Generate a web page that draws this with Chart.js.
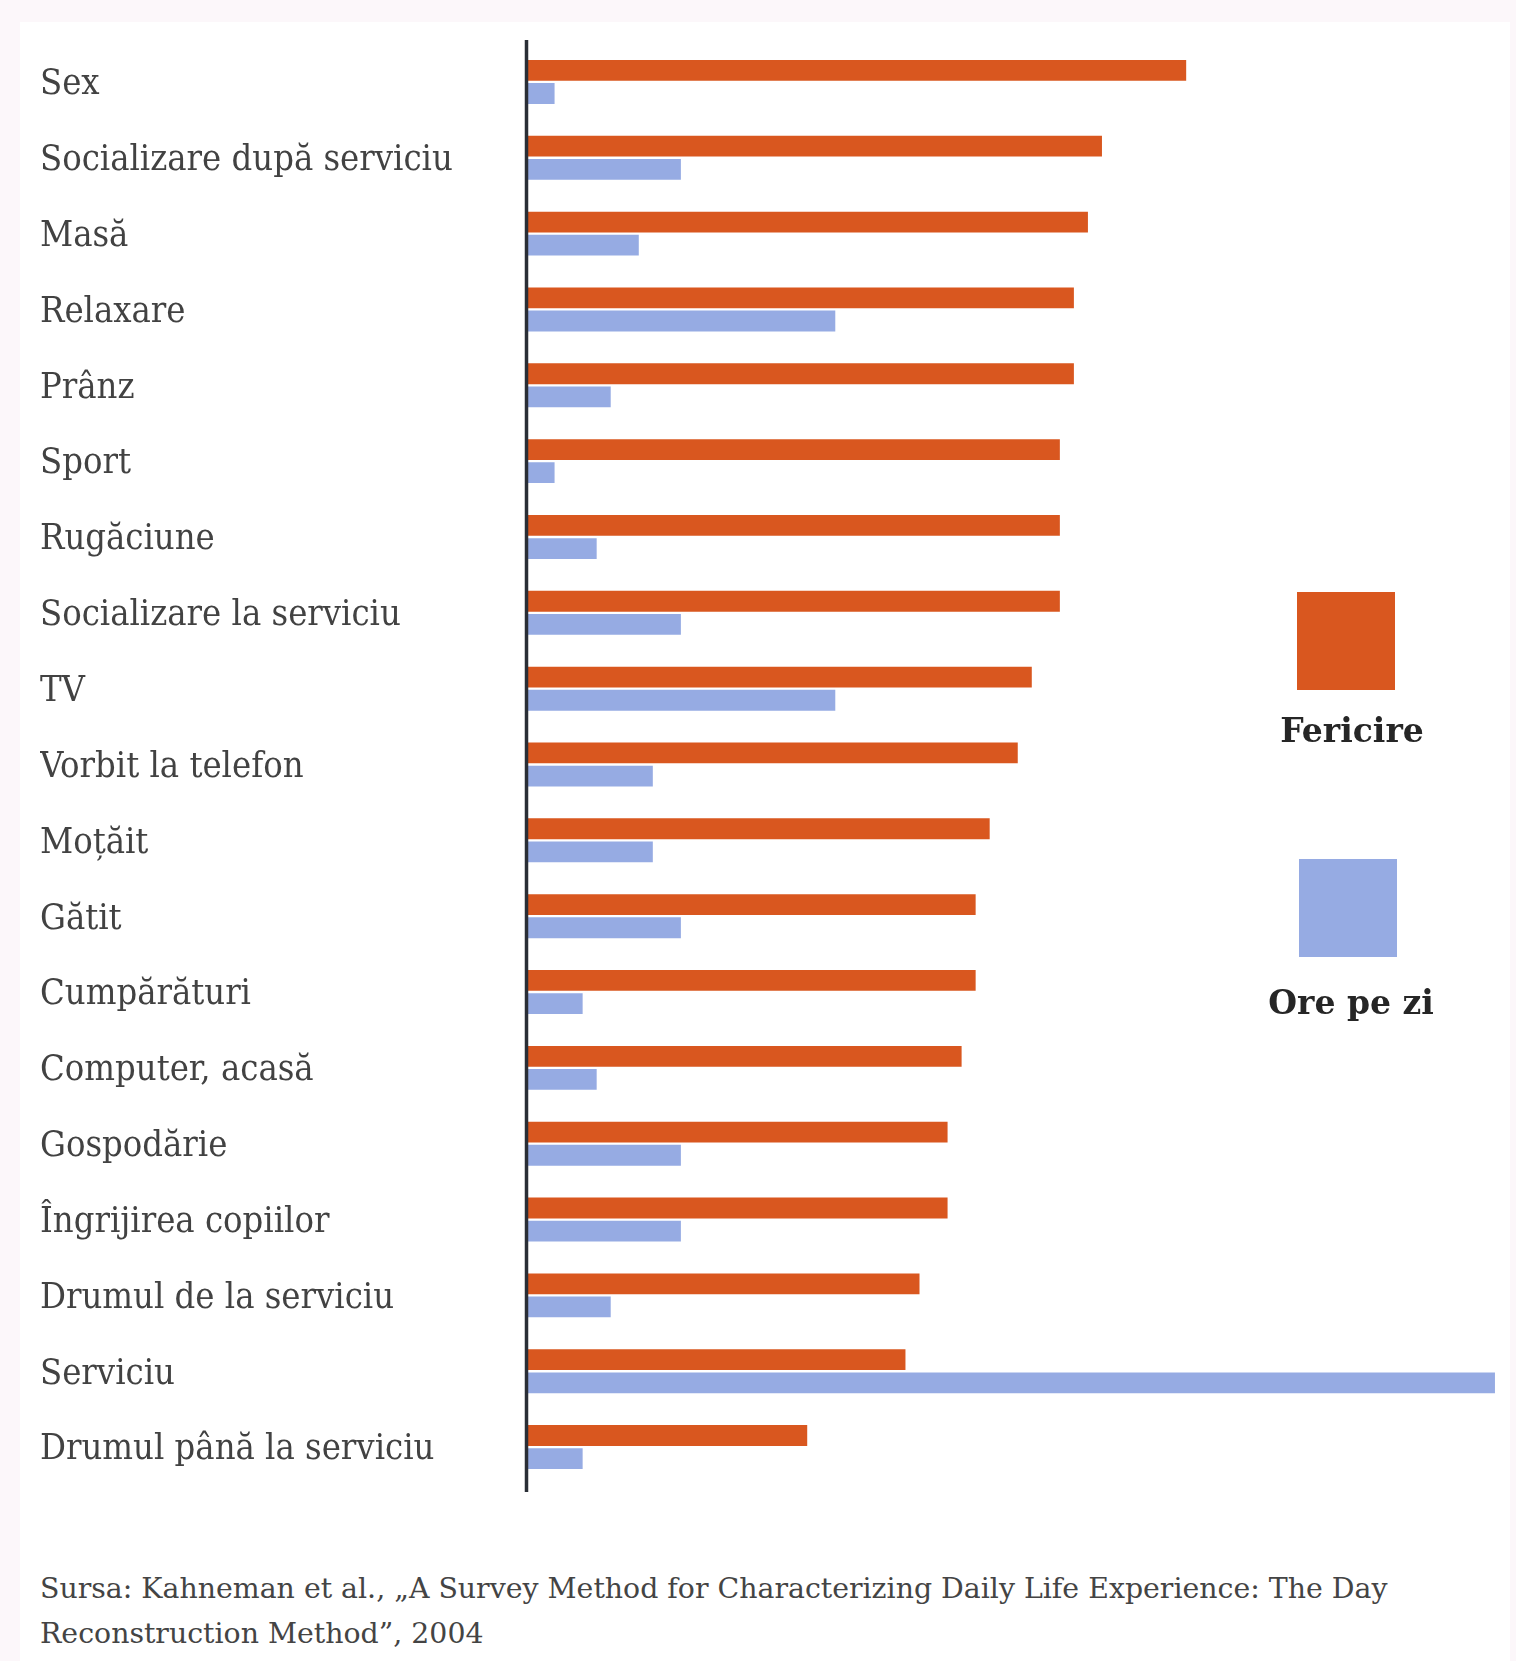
<!DOCTYPE html>
<html lang="ro">
<head>
<meta charset="utf-8">
<title>Fericire și ore pe zi</title>
<script src="https://cdn.jsdelivr.net/npm/chart.js@4.4.1/dist/chart.umd.min.js"></script>
<style>
    html, body { margin: 0; padding: 0; background: #fcf7fa; }
    #pagina { position: relative; width: 1516px; height: 1661px; overflow: hidden; }
    #panou { position: absolute; left: 20px; top: 22px; width: 1490px; height: 1639px; background: #fff; }
    #grafic { position: absolute; left: 0; top: 0; }
    .patrat { position: absolute; width: 98px; height: 98px; }
    .eticheta { position: absolute; width: 240px; text-align: center; line-height: 40px;
        font-family: 'DejaVu Serif', serif; font-weight: bold; font-size: 33px; color: #262626; }
    #sursa { position: absolute; left: 40px; top: 1566px; line-height: 45px; white-space: nowrap;
        font-family: 'DejaVu Serif', serif; color: #444; }
</style>
</head>
<body>
<div id="pagina">
    <div id="panou"></div>
    <canvas id="grafic" width="1516" height="1520"></canvas>
    <div class="patrat" id="patratFericire" style="left:1297px; top:592px;"></div>
    <div class="eticheta" id="etFericire" style="left:1232px; top:711px;"></div>
    <div class="patrat" id="patratOre" style="left:1299px; top:859px;"></div>
    <div class="eticheta" id="etOre" style="left:1231px; top:983px;"></div>
    <div id="sursa">
        <div id="sursa1">Sursa: Kahneman et al., „A Survey Method for Characterizing Daily Life Experience: The Day</div>
        <div>Reconstruction Method”, 2004</div>
    </div>
</div>
<script>
// Activități (de sus în jos)
const categorii = [
    "Sex", "Socializare după serviciu", "Masă", "Relaxare", "Prânz", "Sport",
    "Rugăciune", "Socializare la serviciu", "TV", "Vorbit la telefon", "Moțăit",
    "Gătit", "Cumpărături", "Computer, acasă", "Gospodărie", "Îngrijirea copiilor",
    "Drumul de la serviciu", "Serviciu", "Drumul până la serviciu"
];

// Lungimea barelor citită din imagine (aceeași unitate ca orele)
const fericire = [4.7, 4.1, 4.0, 3.9, 3.9, 3.8, 3.8, 3.8, 3.6, 3.5, 3.3, 3.2, 3.2, 3.1, 3.0, 3.0, 2.8, 2.7, 2.0];
const orePeZi  = [0.2, 1.1, 0.8, 2.2, 0.6, 0.2, 0.5, 1.1, 2.2, 0.9, 0.9, 1.1, 0.4, 0.5, 1.1, 1.1, 0.6, 6.9, 0.4];

const serii = ["Fericire", "Ore pe zi"];
const culori = ["#d9571f", "#96abe3"];

const FONT_ETICHETE = "'DejaVu Serif Condensed', 'DejaVu Serif', serif";
const FONT_SURSA = "'DejaVu Serif', serif";

// mărimea fontului ca textul să aibă lățimea dorită
function marimePentru(text, familie, latime) {
    const ctx = document.createElement('canvas').getContext('2d');
    ctx.font = `normal 100px ${familie}`;
    return 100 * latime / ctx.measureText(text).width;
}

const marimeEtichete = marimePentru("Socializare după serviciu", FONT_ETICHETE, 413);
document.getElementById("sursa").style.fontSize =
    marimePentru(document.getElementById("sursa1").textContent, FONT_SURSA, 1348) + "px";

// legenda
document.getElementById("patratFericire").style.background = culori[0];
document.getElementById("patratOre").style.background = culori[1];
document.getElementById("etFericire").textContent = serii[0];
document.getElementById("etOre").textContent = serii[1];

// linia axei verticale
const liniaAxei = {
    id: 'liniaAxei',
    afterDatasetsDraw(chart) {
        const { ctx, chartArea } = chart;
        ctx.save();
        ctx.strokeStyle = '#2a2e36';
        ctx.lineWidth = 3.5;
        ctx.beginPath();
        ctx.moveTo(chartArea.left, 40);
        ctx.lineTo(chartArea.left, 1492);
        ctx.stroke();
        ctx.restore();
    }
};

new Chart(document.getElementById('grafic'), {
    type: 'bar',
    data: {
        labels: categorii,
        datasets: [
            { label: serii[0], data: fericire, backgroundColor: culori[0] },
            { label: serii[1], data: orePeZi, backgroundColor: culori[1] }
        ]
    },
    options: {
        indexAxis: 'y',
        responsive: false,
        animation: false,
        categoryPercentage: 0.61,
        barPercentage: 0.9,
        layout: { padding: { left: 40, top: 44, bottom: 35, right: 7 } },
        plugins: { legend: { display: false }, tooltip: { enabled: false } },
        scales: {
            x: { type: 'linear', min: 0, max: 7, display: false },
            y: {
                grid: { display: false, drawTicks: false },
                border: { display: false },
                afterFit(axis) { axis.width = 486.5; },
                ticks: {
                    crossAlign: 'far',
                    labelOffset: 3,
                    color: '#424242',
                    font: { family: FONT_ETICHETE, size: marimeEtichete }
                }
            }
        }
    },
    plugins: [liniaAxei]
});
</script>
</body>
</html>
